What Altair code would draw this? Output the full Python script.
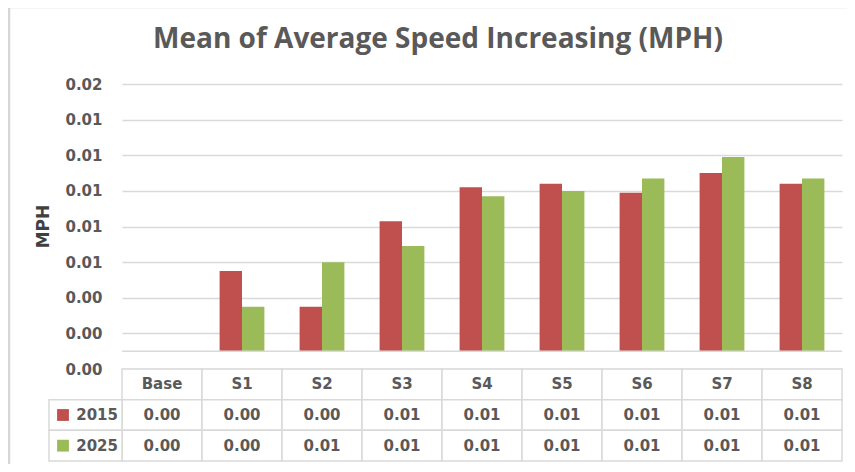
import altair as alt
import pandas as pd

# ---- data ----
categories = ["Base", "S1", "S2", "S3", "S4", "S5", "S6", "S7", "S8"]
years = ["2015", "2025"]
values_2015 = [0.0, 0.0045, 0.0025, 0.0073, 0.0092, 0.0094, 0.0089, 0.0100, 0.0094]
values_2025 = [0.0, 0.0025, 0.0050, 0.0059, 0.0087, 0.0090, 0.0097, 0.0109, 0.0097]
tick_values = [-0.001, 0.001, 0.003, 0.005, 0.007, 0.009, 0.011, 0.013, 0.015]
table_rows = ["header", "2015", "2025"]
colors = ["#C0504D", "#9BBB59"]

TXT = "#595959"
GRID = "#D9D9D9"
FONT = "DejaVu Sans"

W, H = 720, 377

rows = []
for y, vals in zip(years, [values_2015, values_2025]):
    for c, v in zip(categories, vals):
        rows.append({"Category": c, "Year": y, "Row": y, "Value": v})
bar_df = pd.DataFrame(rows)
hdr_df = pd.DataFrame({"Category": categories, "Row": ["header"] * len(categories)})
cells_df = pd.concat([hdr_df, bar_df[["Category", "Row"]]], ignore_index=True)
label_df = pd.DataFrame({"Row": years, "Year": years})
zero_df = pd.DataFrame({"zero": [0.0]})

color_scale = alt.Scale(domain=years, range=colors)

# ---- bar part ----
x_bar = alt.X("Category:N", sort=categories,
              scale=alt.Scale(domain=categories, paddingInner=0.44, paddingOuter=0.22),
              axis=None)
y_bar = alt.Y("Value:Q",
              scale=alt.Scale(domain=[-0.001, 0.015], range=[285, 0], nice=False),
              axis=alt.Axis(values=tick_values,
                            labelExpr="format(abs(datum.value) + 0.0000001, '.2f')",
                            grid=True, gridColor=GRID, gridWidth=1.5,
                            domain=False, ticks=False, labelPadding=20,
                            labelFont=FONT, labelFontSize=15, labelFontWeight="bold",
                            labelColor=TXT,
                            title="MPH", titleFont=FONT, titleFontSize=17,
                            titleFontWeight="bold", titleColor="#404040",
                            titleX=-70, titleY=142))

bars = alt.Chart(bar_df).mark_bar().encode(
    x=x_bar,
    xOffset=alt.XOffset("Year:N", sort=years),
    y=y_bar,
    y2=alt.datum(0),
    color=alt.Color("Year:N", scale=color_scale, legend=None),
)
zero_rule = alt.Chart(zero_df).mark_rule(color=GRID, strokeWidth=1.5).encode(
    y=alt.Y("zero:Q")
)
top = alt.layer(bars, zero_rule)

# ---- data table part ----
x_tab = alt.X("Category:N", sort=categories,
              scale=alt.Scale(domain=categories, paddingInner=0, paddingOuter=0),
              axis=None)
y_tab = alt.Y("Row:N", sort=table_rows,
              scale=alt.Scale(domain=table_rows, range=[285, H], paddingInner=0, paddingOuter=0),
              axis=None)

cells = alt.Chart(cells_df).mark_rect(fill="white", stroke=GRID, strokeWidth=1.5).encode(
    x=x_tab, y=y_tab)
hdr_text = alt.Chart(hdr_df).mark_text(font=FONT, fontSize=15, fontWeight="bold",
                                       color=TXT).encode(
    x=x_tab, y=y_tab, text="Category:N")
val_text = alt.Chart(bar_df).mark_text(font=FONT, fontSize=15, fontWeight="bold",
                                       color=TXT).encode(
    x=x_tab, y=y_tab, text=alt.Text("Value:Q", format=".2f"))
lab_cells = alt.Chart(label_df).mark_rect(fill="white", stroke=GRID, strokeWidth=1.5).encode(
    x=alt.value(-73), x2=alt.value(0), y=y_tab)
lab_sq = alt.Chart(label_df).mark_square(size=140, opacity=1).encode(
    x=alt.value(-59), y=y_tab,
    color=alt.Color("Year:N", scale=color_scale, legend=None))
lab_text = alt.Chart(label_df).mark_text(align="right", font=FONT, fontSize=15,
                                         fontWeight="bold", color=TXT).encode(
    x=alt.value(-4), y=y_tab, text="Year:N")
table = alt.layer(cells, hdr_text, val_text, lab_cells, lab_sq, lab_text)

# ---- outer frame (top and left edges visible in the reference) ----
frame_v = alt.Chart(zero_df).mark_rule(color="#D6D6D6", strokeWidth=2.5).encode(
    x=alt.value(-113), y=alt.value(-77), y2=alt.value(H + 3))
frame_h = alt.Chart(zero_df).mark_rule(color="#D6D6D6", strokeWidth=2.5).encode(
    x=alt.value(-113), x2=alt.value(W + 5), y=alt.value(-77))

chart = alt.layer(top, table, frame_v, frame_h).resolve_scale(
    x="independent", y="independent"
).properties(
    width=W, height=H,
    autosize=alt.AutoSizeParams(type="none"),
    padding={"left": 114, "top": 76, "right": 5, "bottom": 3},
    background="white",
    title=alt.TitleParams("Mean of Average Speed Increasing (MPH)", font="Open Sans",
                          fontSize=28, fontWeight="bold", color=TXT,
                          anchor="middle", frame="group", dx=-44, offset=-48),
).configure_view(stroke=None)

chart.save("out.html", embed_options={"renderer": "svg", "actions": False})
